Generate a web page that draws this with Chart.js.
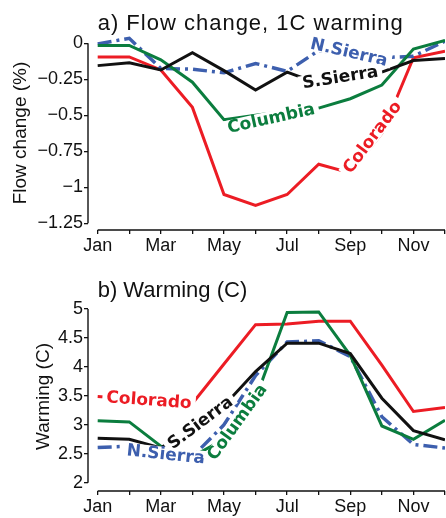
<!DOCTYPE html>
<html>
<head>
<meta charset="utf-8">
<script src="https://cdn.jsdelivr.net/npm/chart.js@4.4.1/dist/chart.umd.min.js"></script>
<style>
  html, body { margin: 0; padding: 0; background: #fff; }
  canvas { display: block; }
</style>
</head>
<body>
<canvas id="flowChart" width="446" height="259"></canvas>
<canvas id="warmChart" width="446" height="259"></canvas>
<script>
// Months along the x axis
const months = ['Jan', 'Feb', 'Mar', 'Apr', 'May', 'Jun', 'Jul', 'Aug', 'Sep', 'Oct', 'Nov', 'Dec'];

// a) Flow change (%) for 1C warming
const flowColorado = [-0.095, -0.095, -0.185, -0.445, -1.05, -1.125, -1.05, -0.84, -0.9, -0.625, -0.1, -0.055];
const flowColumbia = [-0.015, -0.015, -0.115, -0.27, -0.53, -0.5, -0.47, -0.45, -0.385, -0.29, -0.04, 0.02];
const flowNSierra = [-0.005, 0.035, -0.175, -0.18, -0.205, -0.14, -0.195, -0.05, -0.08, -0.1, -0.09, 0.015];
const flowSSierra = [-0.155, -0.135, -0.185, -0.065, -0.19, -0.325, -0.2, -0.28, -0.235, -0.2, -0.12, -0.105];
const flowTicks = [-1.25, -1, -0.75, -0.5, -0.25, 0];

// b) Warming (C)
const warmColorado = [3.49, 3.45, 3.4, 3.37, 4.05, 4.73, 4.74, 4.79, 4.79, 4.03, 3.23, 3.3];
const warmColumbia = [3.07, 3.05, 2.63, 2.45, 2.75, 3.45, 4.94, 4.95, 4.2, 2.98, 2.75, 3.08];
const warmNSierra = [2.61, 2.63, 2.52, 2.45, 3.0, 3.85, 4.43, 4.45, 4.18, 3.14, 2.66, 2.6];
const warmSSierra = [2.77, 2.75, 2.6, 2.97, 3.33, 3.92, 4.41, 4.41, 4.23, 3.46, 2.9, 2.74];
const warmTicks = [2, 2.5, 3, 3.5, 4, 4.5, 5];

const COLORS = {
    colorado: '#ec1c24',
    columbia: '#0b7d3e',
    nsierra: '#3d5fae',
    ssierra: '#111111'
};

// In-line labels: month index, value, rotation in degrees
const flowLabels = [
    { text: 'N.Sierra', color: COLORS.nsierra, month: 7.96, value: -0.06, angle: 13 },
    { text: 'S.Sierra', color: COLORS.ssierra, month: 7.68, value: -0.234, angle: -9 },
    { text: 'Columbia', color: COLORS.columbia, month: 5.49, value: -0.519, angle: -12.5 },
    { text: 'Colorado', color: COLORS.colorado, month: 8.69, value: -0.651, angle: -53 }
];
const warmLabels = [
    { text: 'Colorado', color: COLORS.colorado, month: 1.625, value: 3.43, angle: 4 },
    { text: 'S.Sierra', color: COLORS.ssierra, month: 3.24, value: 3.04, angle: -37 },
    { text: 'N.Sierra', color: COLORS.nsierra, month: 2.16, value: 2.495, angle: 6 },
    { text: 'Columbia', color: COLORS.columbia, month: 4.41, value: 3.05, angle: -54 }
];

const TICK_FONT = { family: '"Liberation Sans", Arial, sans-serif', size: 18 };

function toPoints(values) {
    return values.map((v, i) => ({ x: i, y: v }));
}

function fmtMinus(v) {
    return v < 0 ? '\u2212' + Math.abs(v) : String(v);
}

/**
 * Panel title drawn at the left edge of the first month
 */
const panelTitle = {
    id: 'panelTitle',
    afterDraw(chart, args, opts) {
        const ctx = chart.ctx;
        ctx.save();
        ctx.font = '22px "Liberation Sans", Arial, sans-serif';
        ctx.fillStyle = '#111';
        ctx.textAlign = 'left';
        ctx.textBaseline = 'alphabetic';
        if (opts.spacing) ctx.letterSpacing = opts.spacing;
        ctx.fillText(opts.text, chart.scales.x.getPixelForValue(0), opts.baseline);
        ctx.restore();
    }
};

/**
 * Detached axis lines: y spans the tick range, x spans Jan..Dec
 */
const axisSpines = {
    id: 'axisSpines',
    beforeDatasetsDraw(chart, args, opts) {
        const { ctx, chartArea, scales: { x, y } } = chart;
        ctx.save();
        ctx.strokeStyle = '#111';
        ctx.lineWidth = 1.4;
        ctx.beginPath();
        ctx.moveTo(chartArea.left, y.getPixelForValue(opts.yTop));
        ctx.lineTo(chartArea.left, y.getPixelForValue(opts.yBottom));
        ctx.moveTo(x.getPixelForValue(0), chartArea.bottom);
        ctx.lineTo(x.getPixelForValue(months.length - 1), chartArea.bottom);
        ctx.stroke();
        ctx.restore();
    }
};

/**
 * Labels written along the lines, with the line cut away beneath
 */
const lineLabels = {
    id: 'lineLabels',
    afterDatasetsDraw(chart, args, opts) {
        const { ctx, scales: { x, y } } = chart;
        ctx.save();
        ctx.font = 'bold 17px "DejaVu Sans", sans-serif';
        ctx.textAlign = 'center';
        ctx.textBaseline = 'middle';
        opts.items.forEach(item => {
            const px = x.getPixelForValue(item.month);
            const py = y.getPixelForValue(item.value);
            const w = ctx.measureText(item.text).width;
            ctx.save();
            ctx.translate(px, py);
            ctx.rotate(item.angle * Math.PI / 180);
            ctx.fillStyle = '#fff';
            ctx.fillRect(-w / 2 - 4, -7, w + 8, 14);
            ctx.fillStyle = item.color;
            ctx.fillText(item.text, 0, 1);
            ctx.restore();
        });
        ctx.restore();
    }
};

function buildDatasets(colorado, columbia, nsierra, ssierra) {
    // first dataset is drawn on top
    return [
        { label: 'S.Sierra', data: toPoints(ssierra), borderColor: COLORS.ssierra, borderWidth: 3 },
        { label: 'Columbia', data: toPoints(columbia), borderColor: COLORS.columbia, borderWidth: 3 },
        { label: 'N.Sierra', data: toPoints(nsierra), borderColor: COLORS.nsierra, borderWidth: 3.5, borderDash: [14, 5, 3, 5] },
        { label: 'Colorado', data: toPoints(colorado), borderColor: COLORS.colorado, borderWidth: 3 }
    ];
}

function makePanel(canvasId, cfg) {
    const ctx = document.getElementById(canvasId).getContext('2d');
    return new Chart(ctx, {
        type: 'line',
        data: { datasets: buildDatasets(cfg.colorado, cfg.columbia, cfg.nsierra, cfg.ssierra) },
        options: {
            responsive: false,
            animation: false,
            layout: { padding: { top: cfg.padTop, right: 1, left: 0, bottom: 0 } },
            elements: {
                point: { radius: 0 },
                line: { tension: 0, fill: false }
            },
            plugins: {
                legend: { display: false },
                tooltip: { enabled: false },
                panelTitle: { text: cfg.title, baseline: cfg.titleBaseline, spacing: cfg.titleSpacing },
                axisSpines: { yTop: cfg.yTicks[cfg.yTicks.length - 1], yBottom: cfg.yTicks[0] },
                lineLabels: { items: cfg.labels }
            },
            scales: {
                x: {
                    type: 'linear',
                    min: -0.307,
                    max: months.length - 1,
                    border: { display: false },
                    grid: { drawOnChartArea: false, drawTicks: true, tickLength: 4, color: '#111', lineWidth: 1.3 },
                    ticks: {
                        autoSkip: false,
                        maxRotation: 0,
                        padding: 1,
                        color: '#111',
                        font: TICK_FONT,
                        callback: v => (v % 2 === 0 ? months[v] : '')
                    },
                    afterBuildTicks: scale => {
                        scale.ticks = months.map((m, i) => ({ value: i }));
                    },
                    afterFit: scale => {
                        scale.height = cfg.xHeight;
                        scale.paddingLeft = scale.paddingRight = 0;
                    }
                },
                y: {
                    min: cfg.yMin,
                    max: cfg.yMax,
                    border: { display: false },
                    grid: { drawOnChartArea: false, drawTicks: true, tickLength: 4, color: '#111', lineWidth: 1.3 },
                    ticks: {
                        padding: 1,
                        color: '#111',
                        font: TICK_FONT,
                        callback: v => fmtMinus(v)
                    },
                    title: {
                        display: true,
                        text: cfg.yTitle,
                        color: '#111',
                        font: { family: '"Liberation Sans", Arial, sans-serif', size: 19 },
                        padding: { top: cfg.yTitlePad, bottom: 0 }
                    },
                    afterBuildTicks: scale => {
                        scale.ticks = cfg.yTicks.map(v => ({ value: v }));
                    },
                    afterFit: scale => {
                        scale.width = 88;
                        scale.paddingTop = scale.paddingBottom = 0;
                    }
                }
            }
        },
        plugins: [panelTitle, axisSpines, lineLabels]
    });
}

document.addEventListener('DOMContentLoaded', function() {
    makePanel('flowChart', {
        title: 'a) Flow change, 1C warming',
        titleBaseline: 30,
        titleSpacing: '1px',
        colorado: flowColorado,
        columbia: flowColumbia,
        nsierra: flowNSierra,
        ssierra: flowSSierra,
        yTicks: flowTicks,
        yMin: -1.2965,
        yMax: 0.0507,
        yTitle: 'Flow change (%)',
        yTitlePad: 9,
        padTop: 36,
        xHeight: 29,
        labels: flowLabels
    });

    makePanel('warmChart', {
        title: 'b) Warming (C)',
        titleBaseline: 38,
        colorado: warmColorado,
        columbia: warmColumbia,
        nsierra: warmNSierra,
        ssierra: warmSSierra,
        yTicks: warmTicks,
        yMin: 1.857,
        yMax: 5.121,
        yTitle: 'Warming (C)',
        yTitlePad: 32,
        padTop: 43,
        xHeight: 27,
        labels: warmLabels
    });
});
</script>
</body>
</html>
